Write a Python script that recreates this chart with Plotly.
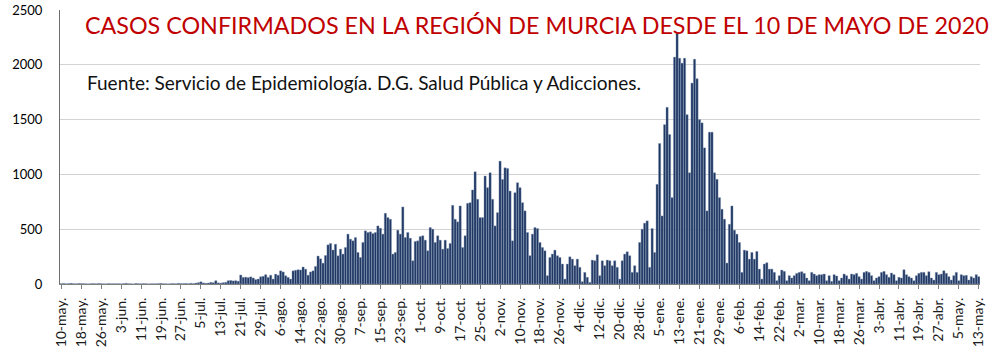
import plotly.graph_objects as go

# Daily confirmed cases, 10-May-2020 .. 13-May-2021
may_jun_2020 = [3, 5, 2, 4, 6, 3, 2, 5, 4, 3, 2, 1, 3, 4, 2, 5, 3, 2, 1, 4, 2, 3,
                2, 3, 1, 4, 6, 3, 2, 1, 5, 3, 2, 4, 3, 1, 2, 3, 2, 4, 5, 3, 2, 1, 3, 4, 2, 6, 3, 4, 5, 3,
                6, 4, 8, 12, 20, 10, 6, 9, 15]
jul_aug_2020 = [12, 30, 10, 8, 12, 15, 30, 32, 28, 30, 25, 82, 60, 62, 58, 65, 55, 40, 45, 66,
                70, 85, 60, 80, 45, 90, 80, 120, 110, 75, 60, 45, 120, 125, 130, 128, 155, 135,
                80, 110, 120, 160, 255, 230, 190, 260, 357]
aug_oct_2020 = [370, 310, 363, 257, 318, 273, 333, 455, 409, 394, 424, 288, 242, 379, 485, 470,
                476, 460, 470, 530, 509, 455, 645, 606, 591, 273, 288, 491, 455, 703, 424, 470,
                418, 212, 388, 394, 433, 440, 400, 303, 515, 500, 379, 440, 400, 318, 400, 324,
                370, 718, 591, 567, 712, 333, 440, 736, 742, 858, 1024, 773, 606, 606, 985, 879]
oct_dec_2020 = [1015, 773, 530, 651, 1121, 954, 1060, 1054, 848, 394, 833, 924, 879, 742, 667,
                470, 258, 455, 515, 506, 379, 333, 303, 76, 242, 273, 309, 258, 242, 182, 45,
                182, 248, 227, 167, 227, 152, 21, 106, 61, 15, 218, 212, 267, 76, 212, 167, 218,
                212, 167, 212, 152, 45]
dec_feb_2021 = [212, 273, 294, 258, 106, 167, 106, 379, 500, 555, 576,
                152, 506, 288, 909, 1282, 621, 1454, 1612, 1364, 788, 2070, 2288,
                2060, 2015, 2060, 1545, 1015, 1833, 2051, 1873, 1500, 1470, 1242, 667, 1385,
                1385, 1015, 955, 788, 682, 591, 191, 545, 712, 491, 455, 379,
                106, 309, 303, 227, 288]
feb_may_2021 = [227, 297, 136, 45, 182, 194, 136, 136, 106, 30,
                76, 127, 115, 30, 76, 55, 76, 97, 106, 112,
                97, 55, 30, 106, 91, 76, 85, 85, 91, 30,
                76, 24, 85, 73, 30, 55, 91, 76, 45, 91,
                85, 97, 67, 45, 106, 115, 106, 76, 30, 55,
                67, 106, 115, 85, 61, 100, 85, 30, 61, 55,
                130, 85, 67, 55, 30, 76, 97, 106, 106, 76,
                112, 55, 36, 106, 85, 91, 121, 97, 67, 36,
                76, 106, 30, 85, 76, 79, 36, 67, 55, 85, 67]

cases = may_jun_2020 + jul_aug_2020 + aug_oct_2020 + oct_dec_2020 + dec_feb_2021 + feb_may_2021

tick_labels = ["10-may.", "18-may.", "26-may.", "3-jun.", "11-jun.", "19-jun.", "27-jun.",
               "5-jul.", "13-jul.", "21-jul.", "29-jul.", "6-ago.", "14-ago.", "22-ago.",
               "30-ago.", "7-sep.", "15-sep.", "23-sep.", "1-oct.", "9-oct.", "17-oct.",
               "25-oct.", "2-nov.", "10-nov.", "18-nov.", "26-nov.", "4-dic.", "12-dic.",
               "20-dic.", "28-dic.", "5-ene.", "13-ene.", "21-ene.", "29-ene.", "6-feb.",
               "14-feb.", "22-feb.", "2-mar.", "10-mar.", "18-mar.", "26-mar.", "3-abr.",
               "11-abr.", "19-abr.", "27-abr.", "5-may.", "13-may."]
tick_step = 8

title_text = "CASOS CONFIRMADOS EN LA REGIÓN DE MURCIA DESDE EL 10 DE MAYO DE 2020"
source_text = "Fuente: Servicio de Epidemiología. D.G. Salud Pública y Adicciones."

x = list(range(len(cases)))
tickvals = [i * tick_step for i in range(len(tick_labels))]

fig = go.Figure(go.Bar(
    x=x, y=cases,
    marker=dict(color="#1F3763", line=dict(color="#7F93B0", width=0.4)),
    hoverinfo="x+y",
))

fig.update_layout(
    width=1000, height=357,
    margin=dict(l=60, r=20, t=10, b=73, autoexpand=False),
    paper_bgcolor="white", plot_bgcolor="white",
    bargap=0.12,
    showlegend=False,
    font=dict(family="Lato, Open Sans, sans-serif", color="#111111"),
    xaxis=dict(
        range=[-0.5, len(cases) - 0.5], automargin=False,
        tickmode="array", tickvals=tickvals, ticktext=tick_labels,
        tickangle=-90, tickfont=dict(size=14, color="#1a1a1a"),
        ticks="outside", ticklen=4, tickcolor="#7f7f7f", ticklabelstandoff=3,
        showline=True, linecolor="#7f7f7f", linewidth=1,
        showgrid=False, zeroline=False,
    ),
    yaxis=dict(
        range=[0, 2500], tickvals=[0, 500, 1000, 1500, 2000, 2500], automargin=False,
        tickfont=dict(size=13, color="#000000"), ticklabeloverflow="allow",
        showgrid=True, gridcolor="#D3D3D3", gridwidth=1,
        showline=True, linecolor="#6f6f6f", linewidth=1,
        ticks="", ticklabelstandoff=14, zeroline=False,
    ),
    annotations=[
        dict(text=title_text, xref="paper", yref="paper", x=0.025, y=0.945,
             xanchor="left", yanchor="middle", showarrow=False,
             font=dict(family="Lato, sans-serif", size=23.3, color="#C00000")),
        dict(text=source_text, xref="paper", yref="paper", x=0.027, y=0.737,
             xanchor="left", yanchor="middle", showarrow=False,
             font=dict(family="Lato, sans-serif", size=19, color="#111111")),
    ],
)

fig.write_html("out.html", config={"displayModeBar": False},
               post_script="document.body.style.margin='0';")
